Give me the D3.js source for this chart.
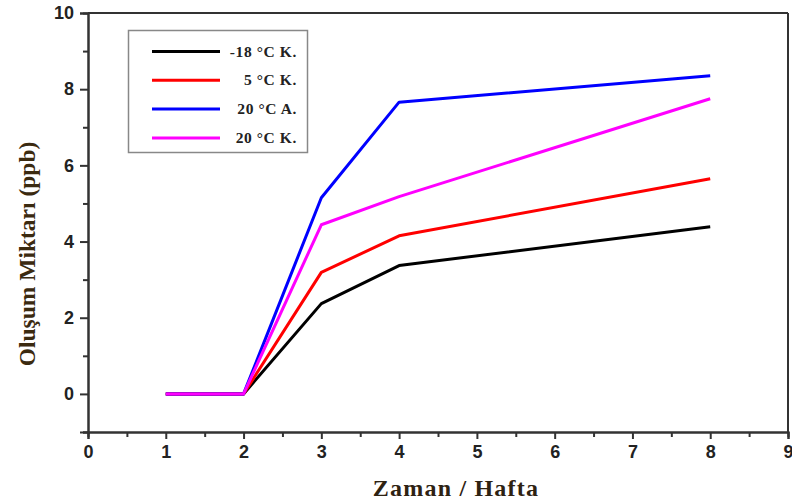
<!DOCTYPE html>
<html><head><meta charset="utf-8">
<script src="https://cdn.jsdelivr.net/npm/d3@7"></script>
<style>body{margin:0;background:#fff}svg{display:block}</style>
</head><body>
<svg id="c" width="792" height="504"></svg>
<script>
const weeks = [1, 2, 3, 4, 8];
const seriesNames = ["-18 °C K.", "5 °C K.", "20 °C A.", "20 °C K."];
const seriesColors = ["#000000", "#ff0000", "#0000ff", "#ff00ff"];
const s_m18K = [0, 0, 2.37, 3.37, 4.39];
const s_5K = [0, 0, 3.19, 4.15, 5.65];
const s_20A = [0, 0, 5.15, 7.66, 8.35];
const s_20K = [0, 0, 4.44, 5.18, 7.75];
const seriesValues = [s_m18K, s_5K, s_20A, s_20K];
const xTicks = [0,1,2,3,4,5,6,7,8,9];
const yTicks = [0,2,4,6,8,10];
const xTitle = "Zaman / Hafta";
const yTitle = "Oluşum Miktarı (ppb)";

const svg = d3.select("#c");
const L = 88, R = 788, T = 13, B = 432;
const x = d3.scaleLinear().domain([0, 9]).range([L, R]);
const y = d3.scaleLinear().domain([-1, 10]).range([B, T]);
const axisCol = "#333";

// frame top/right
svg.append("line").attr("x1", L).attr("x2", R).attr("y1", T).attr("y2", T).attr("stroke", axisCol).attr("stroke-width", 2);
svg.append("line").attr("x1", R).attr("x2", R).attr("y1", T).attr("y2", B).attr("stroke", axisCol).attr("stroke-width", 2);

// x axis
const gx = svg.append("g").attr("transform", `translate(0,${B})`)
  .call(d3.axisBottom(x).tickValues(d3.range(0.5, 9, 1)).tickSize(5).tickFormat(""));
const gx2 = svg.append("g").attr("transform", `translate(0,${B})`)
  .call(d3.axisBottom(x).tickValues(xTicks).tickSize(7).tickPadding(6).tickFormat(d3.format("d")));
[gx, gx2].forEach(g => {
  g.select(".domain").attr("stroke", axisCol).attr("stroke-width", 2);
  g.selectAll(".tick line").attr("stroke", axisCol).attr("stroke-width", 2);
});
gx2.selectAll(".tick text").attr("font-family", "Liberation Sans, Arial, sans-serif")
  .attr("font-weight", "bold").attr("font-size", 18).attr("fill", "#222");

// y axis
const gy = svg.append("g").attr("transform", `translate(${L},0)`)
  .call(d3.axisLeft(y).tickValues(d3.range(-1, 10, 2)).tickSize(5).tickFormat(""));
const gy2 = svg.append("g").attr("transform", `translate(${L},0)`)
  .call(d3.axisLeft(y).tickValues(yTicks).tickSize(8).tickPadding(6).tickFormat(d3.format("d")));
[gy, gy2].forEach(g => {
  g.select(".domain").attr("stroke", axisCol).attr("stroke-width", 2);
  g.selectAll(".tick line").attr("stroke", axisCol).attr("stroke-width", 2);
});
gy2.selectAll(".tick text").attr("font-family", "Liberation Sans, Arial, sans-serif")
  .attr("font-weight", "bold").attr("font-size", 18).attr("fill", "#222");

// lines
const line = d3.line().x((d, i) => x(weeks[i])).y(d => y(d));
seriesValues.forEach((vals, k) => {
  svg.append("path").datum(vals).attr("d", line).attr("fill", "none")
    .attr("stroke", seriesColors[k]).attr("stroke-width", 3).attr("stroke-linejoin", "round");
});

// legend
const lg = svg.append("g");
lg.append("rect").attr("x", 128.5).attr("y", 30.5).attr("width", 179).attr("height", 122)
  .attr("fill", "#fff").attr("stroke", "#888").attr("stroke-width", 1.5);
seriesNames.forEach((n, k) => {
  const yy = 51.5 + k * 28.8;
  lg.append("line").attr("x1", 152).attr("x2", 220).attr("y1", yy).attr("y2", yy)
    .attr("stroke", seriesColors[k]).attr("stroke-width", 3);
  lg.append("text").attr("x", 297).attr("y", yy + 5).attr("text-anchor", "end")
    .attr("font-family", "Liberation Serif, Times New Roman, serif").attr("font-weight", "bold")
    .attr("font-size", 15.5).attr("letter-spacing", 0.6).attr("fill", "#222").text(n);
});

// titles
svg.append("text").attr("x", 456).attr("y", 496).attr("text-anchor", "middle")
  .attr("font-family", "Liberation Serif, Times New Roman, serif").attr("font-weight", "bold")
  .attr("font-size", 24).attr("fill", "#2e2212").attr("letter-spacing", 1.2).text(xTitle);
svg.append("text").attr("transform", "translate(35,254) rotate(-90)").attr("text-anchor", "middle")
  .attr("font-family", "Liberation Serif, Times New Roman, serif").attr("font-weight", "bold")
  .attr("font-size", 23.5).attr("fill", "#3b2a10").text(yTitle);
</script>
</body></html>
